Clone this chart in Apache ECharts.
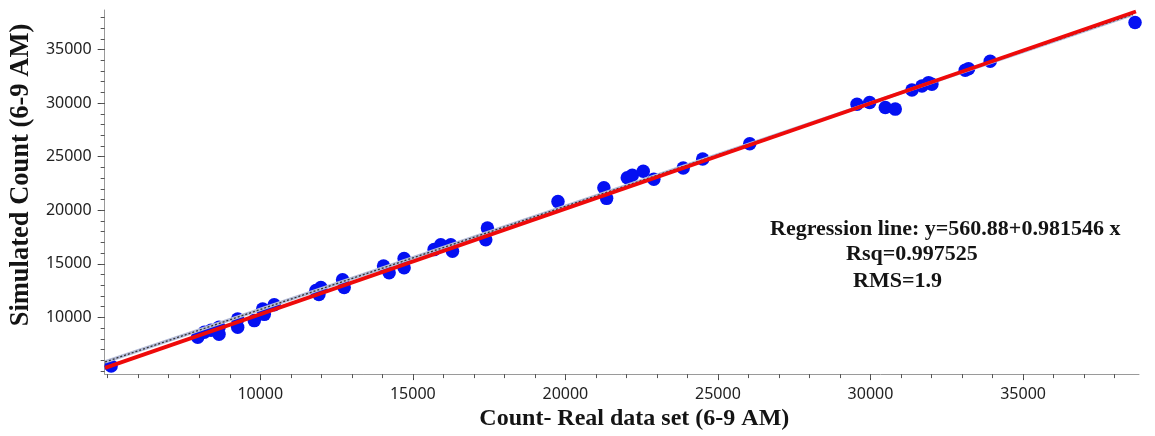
<!DOCTYPE html>
<html>
<head>
<meta charset="utf-8">
<script src="https://cdn.jsdelivr.net/npm/echarts@6/dist/echarts.min.js"></script>
<style>
html,body{margin:0;padding:0;background:#fff;}
#chart{width:1155px;height:436px;}
</style>
</head>
<body>
<div id="chart"></div>
<script>
var realCount = [5112, 7950, 8167, 8386, 8648, 8648, 9260, 9260, 9804, 10079, 10131, 10458,
  11824, 11987, 11922, 12698, 12750, 14040, 14223, 14714, 14714, 15697, 15915, 16243, 16299,
  17445, 17390, 19757, 21262, 21351, 22029, 22192, 22552, 22899, 23862, 24500, 26042,
  29558, 29971, 30485, 30812, 31359, 31686, 31903, 32012, 33104, 33213, 33923, 38670];
var simCount = [5463, 8148, 8611, 8796, 9074, 8426, 9843, 9074, 9694, 10768, 10278, 11176,
  12500, 12778, 12130, 13518, 12778, 14787, 14167, 15490, 14630, 16324, 16787, 16787, 16176,
  18333, 17250, 20806, 22102, 21111, 23028, 23269, 23639, 22898, 23954, 24780, 26204,
  29907, 30064, 29602, 29444, 31231, 31602, 31917, 31759, 33083, 33213, 33917, 37528];

// Line end points
var regLineX = [4915, 38700];
var regLineY = [5278, 38560];
var refLineX = [4915, 38600];
var refLineY = [5833, 38290];

// Tick values
var majorTicks = [10000, 15000, 20000, 25000, 30000, 35000];
var xMinorTicks = [5000, 6000, 7000, 8000, 9000, 10000, 11000, 12000, 13000, 14000, 15000, 16000,
  17000, 18000, 19000, 20000, 21000, 22000, 23000, 24000, 25000, 26000, 27000, 28000, 29000,
  30000, 31000, 32000, 33000, 34000, 35000, 36000, 37000, 38000];
var yMinorTicks = [5000, 6000, 7000, 8000, 9000, 10000, 11000, 12000, 13000, 14000, 15000, 16000,
  17000, 18000, 19000, 20000, 21000, 22000, 23000, 24000, 25000, 26000, 27000, 28000, 29000,
  30000, 31000, 32000, 33000, 34000, 35000, 36000, 37000, 38000];

var xTitle = 'Count- Real data set (6-9 AM)';
var yTitle = 'Simulated Count (6-9 AM)';
var statLines = ['Regression line: y=560.88+0.981546 x', 'Rsq=0.997525', 'RMS=1.9'];

var X_MIN = 4900, X_MAX = 38800, Y_MIN = 4700, Y_MAX = 38700;

function pairs(a, b) { return a.map(function (v, i) { return [v, b[i]]; }); }
function plain(v) { return String(v); }

var chart = echarts.init(document.getElementById('chart'));
var labelFont = { fontFamily: 'Noto Sans', fontSize: 16, color: '#222' };
var titleFont = { fontFamily: 'Liberation Serif', fontWeight: 'bold', fontSize: 24, color: '#141414' };

chart.setOption({
  animation: false,
  backgroundColor: '#ffffff',
  grid: { left: 104, right: 16, top: 10, bottom: 57, containLabel: false },
  xAxis: [{
    type: 'value', position: 'bottom', min: X_MIN, max: X_MAX,
    splitLine: { show: false },
    axisLine: { show: true, onZero: false, lineStyle: { color: '#9a9a9a', width: 1 } },
    axisTick: { show: true, customValues: majorTicks, length: 6, lineStyle: { color: '#444' } },
    axisLabel: Object.assign({ customValues: majorTicks, margin: 12, formatter: plain }, labelFont),
    name: xTitle, nameLocation: 'middle', nameGap: 30,
    nameTextStyle: Object.assign({ padding: [0, 0, 0, 25] }, titleFont)
  }, {
    type: 'value', position: 'bottom', min: X_MIN, max: X_MAX,
    splitLine: { show: false },
    axisLine: { show: false, onZero: false },
    axisTick: { show: true, customValues: xMinorTicks, length: 4, lineStyle: { color: '#555' } },
    axisLabel: { show: false }
  }],
  yAxis: [{
    type: 'value', position: 'left', min: Y_MIN, max: Y_MAX,
    splitLine: { show: false },
    axisLine: { show: true, onZero: false, lineStyle: { color: '#9a9a9a', width: 1 } },
    axisTick: { show: true, customValues: majorTicks, length: 7, lineStyle: { color: '#444' } },
    axisLabel: Object.assign({ customValues: majorTicks, margin: 13, formatter: plain }, labelFont),
    name: yTitle, nameLocation: 'middle', nameGap: 66,
    nameTextStyle: Object.assign({}, titleFont, { fontSize: 26.5, padding: [0, 0, 0, 34] })
  }, {
    type: 'value', position: 'left', min: Y_MIN, max: Y_MAX,
    splitLine: { show: false },
    axisLine: { show: false, onZero: false },
    axisTick: { show: true, customValues: yMinorTicks, length: 4, lineStyle: { color: '#555' } },
    axisLabel: { show: false }
  }],
  series: [{
    type: 'scatter', xAxisIndex: 0, yAxisIndex: 0, z: 2,
    symbol: 'circle', symbolSize: 13.5,
    itemStyle: { color: '#0410f2', opacity: 1 },
    data: pairs(realCount, simCount)
  }, {
    type: 'line', xAxisIndex: 0, yAxisIndex: 0, z: 3, symbol: 'none',
    lineStyle: { color: '#b4bcd8', width: 3.5 },
    data: pairs(refLineX, refLineY)
  }, {
    type: 'line', xAxisIndex: 0, yAxisIndex: 0, z: 4, symbol: 'none',
    lineStyle: { color: '#333', width: 1.3, type: [2, 2] },
    data: pairs(refLineX, refLineY)
  }, {
    type: 'line', xAxisIndex: 0, yAxisIndex: 0, z: 5, symbol: 'none',
    lineStyle: { color: '#ee0a0a', width: 3.8 },
    data: pairs(regLineX, regLineY)
  }],
  graphic: [
    { type: 'text', left: 770, top: 218, style: { text: statLines[0], font: 'bold 22px "Liberation Serif"', fill: '#141414' } },
    { type: 'text', left: 846, top: 243, style: { text: statLines[1], font: 'bold 22px "Liberation Serif"', fill: '#141414' } },
    { type: 'text', left: 853, top: 270, style: { text: statLines[2], font: 'bold 22px "Liberation Serif"', fill: '#141414' } }
  ]
});
</script>
</body>
</html>
